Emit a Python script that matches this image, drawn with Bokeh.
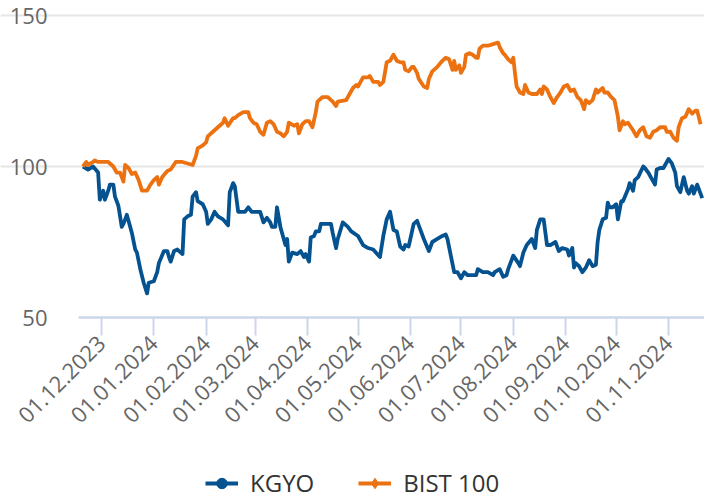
import math
import pandas as pd
from bokeh.plotting import figure
from bokeh.models import (FixedTicker, Legend, LegendItem, Range1d, DatetimeAxis, LinearAxis,
                          Grid, DatetimeTickFormatter, ColumnDataSource)
from bokeh.embed import file_html
from bokeh.resources import INLINE

# ---------------- data ----------------
base_date = "2023-12-01"

kgyo_days = [-11, -8, -5, -2, -1, 1, 2, 4, 5, 7, 8, 10, 12, 13, 15, 16, 18, 20, 21, 23,
             25, 27, 28, 31, 33, 34, 37, 39, 40, 41, 43, 45, 46, 48, 49, 51, 53, 54, 56, 57,
             60, 62, 63, 65, 67, 69, 72, 75, 76, 78, 79, 81, 84, 85, 87, 89, 91, 94, 96, 98,
             100, 101, 103, 104, 106, 108, 109, 110, 111, 113, 116, 118, 120, 121, 123, 124,
             126, 127, 129, 130, 136, 137, 139, 140,
             143, 146, 148, 152, 155, 158, 161, 165, 167, 169, 171, 173, 175, 177, 179, 180,
             182, 183, 185, 187, 189, 191, 194, 196, 199, 202, 204, 205, 207, 209, 211, 213,
             215, 217, 220, 222, 223, 226, 229, 232, 233, 236, 238, 240, 241, 243, 244, 247,
             248, 250, 252, 255, 257, 258, 260, 262, 264, 266, 269, 271, 273, 276, 277, 279,
             280, 281, 283, 285, 287, 289, 291, 293, 294, 295, 297, 299, 300, 301, 303, 305,
             306, 308, 309, 312, 313, 315, 316, 318, 321, 322, 324, 327, 328, 329, 331, 333,
             336, 338, 340, 341, 343, 345, 347, 348, 350, 351, 353, 356]
kgyo_values = [100, 99, 100, 98, 89, 92, 89, 92, 94, 94, 90, 87, 80, 81, 84, 82, 78, 72.5, 71.5, 66,
               61.5, 58, 61.5, 62, 65, 68, 72, 72, 70, 68.5, 72, 72.5, 72, 71, 82.5, 83.5, 84, 90, 91.5, 88.5,
               87.5, 85, 81, 82.5, 85, 83.5, 82.5, 80.5, 91.5, 94.5, 93.5, 85, 85, 85, 86.5, 85, 85, 85, 81.5, 83,
               81.5, 80, 80, 86.5, 80, 76, 74, 76, 68.5, 71.5, 71, 72, 70, 71, 68.5, 76.5,
               77, 78.5, 78.5, 81, 81, 78, 73, 76,
               81.5, 80, 78.5, 77, 74, 73, 72.5, 70, 77, 82.5, 85, 79, 78.5, 73.5, 72.5, 74,
               73.5, 76, 81, 82, 79, 76, 72, 75, 76, 77, 77.5, 76, 70.5, 65, 65, 63,
               65, 64, 64, 64, 66, 65, 65, 64, 65, 66, 63.5, 64, 66, 69, 70.5, 68,
               67, 71.5, 74, 76, 73, 79, 82.5, 82.5, 74, 74, 75, 72, 73, 72.5, 70.5, 73,
               66.5, 68, 67, 65, 66.5, 69, 67, 67.5, 75, 79, 82.5, 83, 88, 86.5, 86.5, 87.5,
               82.5, 88.5, 88.5, 92.5, 94.5, 92, 95.5, 96.5, 100, 99.5, 98, 95, 94, 99, 99.5, 99.5,
               102.5, 101, 98, 93.5, 91.5, 96.5, 92, 91, 93.5, 91, 94, 89.5]

bist_days = [-11, -9, -8, -5, -4, -2, 1, 2, 4, 7, 8, 9, 11, 13, 14, 16, 18, 20, 22, 24,
             27, 29, 31, 33, 34, 36, 39, 41, 44, 48, 51, 54, 56, 57, 60, 62, 63, 66, 69, 72,
             73, 75, 78, 79, 81, 84, 87, 88, 90, 92, 94, 96, 98, 100, 102, 104, 106, 108, 110, 111,
             114, 116, 117, 119, 121, 123, 125, 127, 128, 131, 134, 137, 139, 140,
             145, 146, 149, 151, 152, 155, 158, 159, 161, 164, 165, 167, 169, 171, 173, 175,
             177, 179, 180, 182, 184, 185, 187, 188, 191, 193, 194, 196, 199, 202, 204, 206,
             208, 209, 210, 212, 213, 215, 216, 218, 220, 222, 223, 224, 226, 229, 232, 235,
             236, 238, 239, 241, 243, 244, 245, 246, 248, 250, 251, 253, 255, 258, 260, 261,
             262, 264, 266, 268, 270, 272, 274, 276, 278, 280, 282, 284, 286, 287, 289, 291,
             293, 294, 297, 298, 300, 302, 304, 306, 307, 309, 310, 312, 315, 317, 319, 321,
             323, 325, 327, 329, 331, 334, 335, 337, 339, 341, 342, 344, 346, 348, 350, 352,
             353, 355]
bist_values = [100, 101.5, 100.5, 101.5, 102, 101.5, 101.5, 101.5, 101.5, 100, 99, 98, 98, 95, 100.5, 99.5, 97.5, 98, 95.5, 92,
               92, 94, 95.5, 96.5, 94, 96.5, 98.5, 99, 101.5, 101.5, 101, 100.5, 103.5, 106, 107, 108, 110, 111.5, 113, 114.5,
               116, 113.5, 116, 116, 117, 118, 118, 116, 114.5, 114, 111.5, 110.5, 114.5, 115, 114, 111.5, 111, 110, 111.5, 114.5,
               113.5, 114, 111, 114, 115, 115, 113, 118, 121.5, 123, 123, 121.5, 120, 121.5,
               122, 123, 126, 127, 126.5, 129.5, 129.5, 130, 128, 128, 127, 128, 134.5, 135, 137, 135,
               134.5, 134.5, 132, 131.5, 133, 133, 131, 129, 126.5, 126, 129, 131.5, 133, 135, 136, 135.5,
               132, 135, 132, 133.5, 131, 133, 137, 137.5, 137, 136, 136, 139, 140, 140, 140.5, 141,
               139.5, 137.5, 137, 135.5, 134.5, 136, 131, 126.5, 124.5, 124, 127, 124.5, 124, 124, 125.5, 124,
               126.5, 125.5, 123, 121, 123, 124.5, 126.5, 127, 125, 125.5, 123, 122, 119, 122, 121, 122,
               125.5, 124.5, 126, 124.5, 124.5, 123, 122, 116.5, 112, 115, 114, 114.5, 112, 110, 112, 113,
               110, 109.5, 111.5, 112, 113, 113, 111.5, 111.5, 109.5, 108.5, 113, 116, 116.5, 119, 117.5, 118.5,
               118.5, 114]

tick_labels = ["01.12.2023", "01.01.2024", "01.02.2024", "01.03.2024", "01.04.2024",
               "01.05.2024", "01.06.2024", "01.07.2024", "01.08.2024", "01.09.2024",
               "01.10.2024", "01.11.2024"]
y_ticks = [50, 100, 150]
series_names = ["KGYO", "BIST 100"]

# ---------------- styling ----------------
BLUE = "#04528f"
ORANGE = "#ec7211"
FONT = "Open Sans"
W, H = 704, 499

base = pd.Timestamp(base_date)
kgyo_x = base + pd.to_timedelta(kgyo_days, unit="D")
bist_x = base + pd.to_timedelta(bist_days, unit="D")

def to_ms(t):
    return float((t - pd.Timestamp("1970-01-01")) / pd.Timedelta(milliseconds=1))

tick_dt = pd.to_datetime(tick_labels, format="%d.%m.%Y")
tick_ms = [to_ms(t) for t in tick_dt]

# ---- layout in screen pixels: the frame covers the whole canvas, the plotting area is
#      x 78..704, y 15..317; axes are drawn at fixed locations inside the frame ----
area_left, area_right = 78, W
area_top, area_bottom = 15, 317
first_tick_px = 101
px_per_day = 1.6875
Y_MIN, Y_MAX = y_ticks[0], y_ticks[-1]
px_per_unit = (area_bottom - area_top) / (Y_MAX - Y_MIN)

x_start = base - pd.Timedelta(days=first_tick_px / px_per_day)
x_end = base + pd.Timedelta(days=(W - first_tick_px) / px_per_day)
area_left_t = base - pd.Timedelta(days=(first_tick_px - area_left) / px_per_day)
bounds_ms = (to_ms(area_left_t), to_ms(x_end))
y_top = Y_MAX + area_top / px_per_unit
y_low = Y_MIN - (H - area_bottom) / px_per_unit

p = figure(width=W, height=H, x_axis_type=None, y_axis_type=None,
           x_range=Range1d(x_start, x_end), y_range=Range1d(y_low, y_top),
           output_backend="svg", toolbar_location=None,
           min_border_left=0, min_border_right=0, min_border_top=0, min_border_bottom=0)
p.outline_line_color = None
p.background_fill_color = "white"
p.border_fill_color = "white"

# horizontal grid lines
grid = Grid(dimension=1, ticker=FixedTicker(ticks=y_ticks[1:]), bounds=bounds_ms,
            grid_line_color="#e6e6e6", grid_line_width=2)
p.add_layout(grid)

# y axis (labels only), at the left edge of the plotting area
yaxis = LinearAxis(fixed_location=bounds_ms[0], ticker=FixedTicker(ticks=y_ticks))
yaxis.axis_line_color = None
yaxis.major_tick_line_color = None
yaxis.minor_tick_line_color = None
yaxis.major_tick_out = 0
yaxis.major_tick_in = 0
yaxis.major_label_standoff = 31
yaxis.major_label_text_font = FONT
yaxis.major_label_text_font_size = "22px"
yaxis.major_label_text_color = "#666666"
p.add_layout(yaxis, "left")

# x axis, drawn at y = 50
fmt = "%d.%m.%Y"
xaxis = DatetimeAxis(fixed_location=Y_MIN, bounds=bounds_ms, ticker=FixedTicker(ticks=tick_ms),
                     formatter=DatetimeTickFormatter(microseconds=fmt, milliseconds=fmt, seconds=fmt,
                                                     minsec=fmt, minutes=fmt, hourmin=fmt, hours=fmt,
                                                     days=fmt, months=fmt, years=fmt))
xaxis.axis_line_color = "#ccd6eb"
xaxis.axis_line_width = 2.5
xaxis.major_tick_line_color = "#ccd6eb"
xaxis.major_tick_line_width = 2
xaxis.major_tick_out = 18
xaxis.major_tick_in = 0
xaxis.minor_tick_line_color = None
xaxis.major_label_orientation = math.pi / 4
xaxis.major_label_standoff = 4
xaxis.major_label_text_font = FONT
xaxis.major_label_text_font_size = "22px"
xaxis.major_label_text_color = "#666666"
p.add_layout(xaxis, "below")

# series
src_k = ColumnDataSource(dict(x=kgyo_x, y=kgyo_values))
src_b = ColumnDataSource(dict(x=bist_x, y=bist_values))
l_k = p.line("x", "y", source=src_k, line_color=BLUE, line_width=3.8, line_join="round")
l_b = p.line("x", "y", source=src_b, line_color=ORANGE, line_width=3.8, line_join="round")

# marker renderers, muted (invisible) in the plot, they only give the legend its symbols
m_k = p.scatter("x", "y", source=src_k, marker="circle", size=10, fill_color=BLUE,
                line_color=BLUE, muted_alpha=0)
m_b = p.scatter("x", "y", source=src_b, marker="diamond", size=12, fill_color=ORANGE,
                line_color=ORANGE, muted_alpha=0)
m_k.muted = True
m_b.muted = True

legend = Legend(items=[LegendItem(label=series_names[0], renderers=[l_k, m_k]),
                       LegendItem(label=series_names[1], renderers=[l_b, m_b])],
                location=(205, 0), orientation="horizontal",
                glyph_width=33, glyph_height=26, label_standoff=12, spacing=44,
                padding=0, margin=0, border_line_color=None,
                background_fill_alpha=0, click_policy="none",
                label_text_font=FONT, label_text_font_size="24px",
                label_text_color="#333333")
p.add_layout(legend)

open("out.html", "w").write(file_html(p, INLINE))
